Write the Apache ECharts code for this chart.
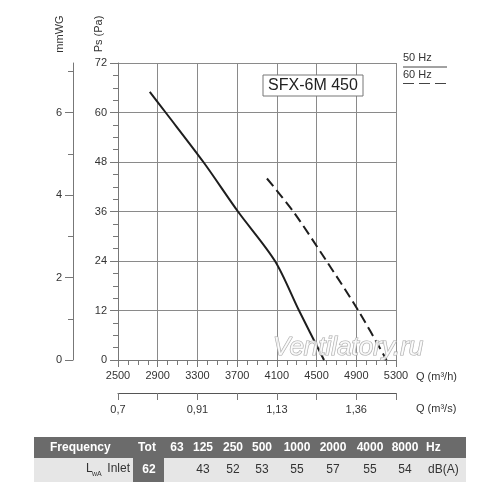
<!DOCTYPE html>
<html>
<head>
<meta charset="utf-8">
<script src="https://cdn.jsdelivr.net/npm/echarts@6/dist/echarts.min.js"></script>
<style>
  html, body { margin: 0; padding: 0; background: #fff; }
  .fan { width: 500px; height: 500px; }
</style>
</head>
<body>
<div class="fan"></div>
<script>
// 风机曲线 SFX-6M 450
var flow50 = [2820, 2980, 3360, 3708, 4081, 4323, 4575];
var pres50 = [65, 60, 48, 36, 24, 12, 0];
var flow60 = [4000, 4265, 4600, 4920, 5205];
var pres60 = [44, 36, 24, 12, 0];

var qSecAt = [2500, 3300, 4100, 4900];
var qSecLabels = ["0,7", "0,91", "1,13", "1,36"];
var mmwgLabels = [0, 2, 4, 6];
var mmwgMinor = [1, 3, 5, 7];

var bandLabels = ["Tot", "63", "125", "250", "500", "1000", "2000", "4000", "8000"];
var lwaInlet = [62, null, 43, 52, 53, 55, 57, 55, 54];

(function() {
  var myChart = echarts.init(document.querySelector(".fan"));
  var font = "'Liberation Sans', Arial, sans-serif";
  var gridColor = "#8a8a8a";
  var axisColor = "#777";
  var txt = "#333";

  var pairs = function(xs, ys) {
    return xs.map(function(x, i) { return [x, ys[i]]; });
  };

  // 表格位置
  var colX = [147, 177, 203, 233, 262, 297, 333, 370, 405];
  var table = [
    { type: "rect", shape: { x: 34, y: 437, width: 432, height: 21 }, style: { fill: "#6b6b6b" } },
    { type: "rect", shape: { x: 34, y: 458, width: 432, height: 24 }, style: { fill: "#e6e6e6" } },
    { type: "rect", shape: { x: 133, y: 458, width: 31, height: 24 }, style: { fill: "#6b6b6b" } },
    { type: "text", x: 50, y: 448, style: { text: "Frequency", font: "bold 12px " + font, fill: "#fff", textAlign: "left", textVerticalAlign: "middle" } },
    { type: "text", x: 426, y: 448, style: { text: "Hz", font: "bold 12px " + font, fill: "#fff", textAlign: "left", textVerticalAlign: "middle" } },
    { type: "text", x: 86, y: 469, style: { text: "L", font: "12px " + font, fill: txt, textAlign: "left", textVerticalAlign: "middle" } },
    { type: "text", x: 92, y: 474, style: { text: "wA", font: "7px " + font, fill: txt, textAlign: "left", textVerticalAlign: "middle" } },
    { type: "text", x: 130, y: 469, style: { text: "Inlet", font: "12px " + font, fill: txt, textAlign: "right", textVerticalAlign: "middle" } },
    { type: "text", x: 428, y: 470, style: { text: "dB(A)", font: "12px " + font, fill: txt, textAlign: "left", textVerticalAlign: "middle" } }
  ];
  bandLabels.forEach(function(b, i) {
    table.push({ type: "text", x: colX[i], y: 448, style: { text: b, font: "bold 12px " + font, fill: "#fff", textAlign: "center", textVerticalAlign: "middle" } });
    if (lwaInlet[i] != null) {
      table.push({ type: "text", x: colX[i] + (i == 0 ? 2 : 0), y: 470, style: {
        text: String(lwaInlet[i]),
        font: (i == 0 ? "bold " : "") + "12px " + font,
        fill: i == 0 ? "#fff" : txt, textAlign: "center", textVerticalAlign: "middle" } });
    }
  });

  option = {
    animation: false,
    grid: {
      left: 118,
      right: 104,
      top: 63,
      bottom: 140
    },
    xAxis: [
      {
        type: "value",
        min: 2500,
        max: 5300,
        interval: 400,
        axisLine: { onZero: false, lineStyle: { color: axisColor } },
        axisTick: { length: 7, lineStyle: { color: axisColor } },
        minorTick: { show: true, splitNumber: 4, length: 5, lineStyle: { color: axisColor } },
        axisLabel: { color: txt, fontSize: 11, fontFamily: font, margin: 10, formatter: function(v) { return String(v); } },
        splitLine: { show: true, lineStyle: { color: gridColor } }
      },
      {
        type: "value",
        min: 2500,
        max: 5300,
        position: "bottom",
        offset: 33,
        axisLine: { show: true, onZero: false, lineStyle: { color: "#555" } },
        axisTick: { show: true, length: 7, customValues: [2500, 2900, 3300, 3700, 4100, 4500, 4900, 5300], lineStyle: { color: axisColor } },
        axisLabel: {
          color: txt, fontSize: 11, fontFamily: font, margin: 11,
          customValues: qSecAt,
          formatter: function(v) { return qSecLabels[qSecAt.indexOf(v)]; }
        },
        splitLine: { show: false }
      }
    ],
    yAxis: [
      {
        type: "value",
        min: 0,
        max: 72,
        interval: 12,
        axisLine: { show: true, onZero: false, lineStyle: { color: axisColor } },
        axisTick: { show: true, length: 8, lineStyle: { color: axisColor } },
        minorTick: { show: true, splitNumber: 4, length: 5, lineStyle: { color: axisColor } },
        axisLabel: { color: txt, fontSize: 11, fontFamily: font, margin: 11 },
        splitLine: { show: true, lineStyle: { color: gridColor } }
      },
      {
        type: "value",
        min: 0,
        max: 7.2,
        position: "left",
        offset: 45,
        axisLine: { show: true, onZero: false, lineStyle: { color: axisColor } },
        axisTick: { show: true, length: 8, customValues: mmwgLabels, lineStyle: { color: axisColor } },
        axisLabel: { color: txt, fontSize: 11, fontFamily: font, margin: 11, customValues: mmwgLabels },
        splitLine: { show: false }
      },
      {
        type: "value",
        min: 0,
        max: 7.2,
        position: "left",
        offset: 45,
        axisLine: { show: false, onZero: false },
        axisTick: { show: true, length: 5, customValues: mmwgMinor, lineStyle: { color: axisColor } },
        axisLabel: { show: false },
        splitLine: { show: false }
      }
    ],
    graphic: [
      { type: "text", x: 99, y: 34, rotation: Math.PI / 2, style: { text: "Ps (Pa)", font: "11px " + font, fill: txt, textAlign: "center", textVerticalAlign: "middle" } },
      { type: "text", x: 60, y: 34, rotation: Math.PI / 2, style: { text: "mmWG", font: "11px " + font, fill: txt, textAlign: "center", textVerticalAlign: "middle" } },
      { type: "text", x: 416, y: 377, style: { text: "Q (m³/h)", font: "11px " + font, fill: txt, textAlign: "left", textVerticalAlign: "middle" } },
      { type: "text", x: 416, y: 409, style: { text: "Q (m³/s)", font: "11px " + font, fill: txt, textAlign: "left", textVerticalAlign: "middle" } },
      // 标题框
      { type: "rect", z: 50, shape: { x: 263, y: 75, width: 100, height: 21 }, style: { fill: "#fff", stroke: "#777", lineWidth: 1 } },
      { type: "text", z: 51, x: 313, y: 86, style: { text: "SFX-6M 450", font: "16px " + font, fill: "#222", textAlign: "center", textVerticalAlign: "middle" } },
      // 图例
      { type: "text", x: 403, y: 58, style: { text: "50 Hz", font: "11px " + font, fill: txt, textAlign: "left", textVerticalAlign: "middle" } },
      { type: "line", shape: { x1: 403, y1: 67, x2: 447, y2: 67 }, style: { stroke: "#444", lineWidth: 1 } },
      { type: "text", x: 403, y: 75, style: { text: "60 Hz", font: "11px " + font, fill: txt, textAlign: "left", textVerticalAlign: "middle" } },
      { type: "line", shape: { x1: 403, y1: 83.5, x2: 447, y2: 83.5 }, style: { stroke: "#444", lineWidth: 1, lineDash: [11, 5] } },
      // 水印
      { type: "text", z: 60, x: 273, y: 348, style: { text: "Ventilatory.ru", font: "italic 26px " + font, fill: "rgba(255,255,255,0.8)", stroke: "#aaa", lineWidth: 1.2, textAlign: "left", textVerticalAlign: "middle" } }
    ].concat(table),
    series: [
      {
        name: "50 Hz",
        type: "line",
        smooth: 0.3,
        symbol: "none",
        lineStyle: { color: "#1e1e1e", width: 2 },
        data: pairs(flow50, pres50)
      },
      {
        name: "60 Hz",
        type: "line",
        smooth: 0.3,
        symbol: "none",
        lineStyle: { color: "#1e1e1e", width: 2, type: [10, 5] },
        data: pairs(flow60, pres60)
      }
    ]
  };

  myChart.setOption(option);
  window.addEventListener("resize", function() {
    myChart.resize();
  });
})();
</script>
</body>
</html>
